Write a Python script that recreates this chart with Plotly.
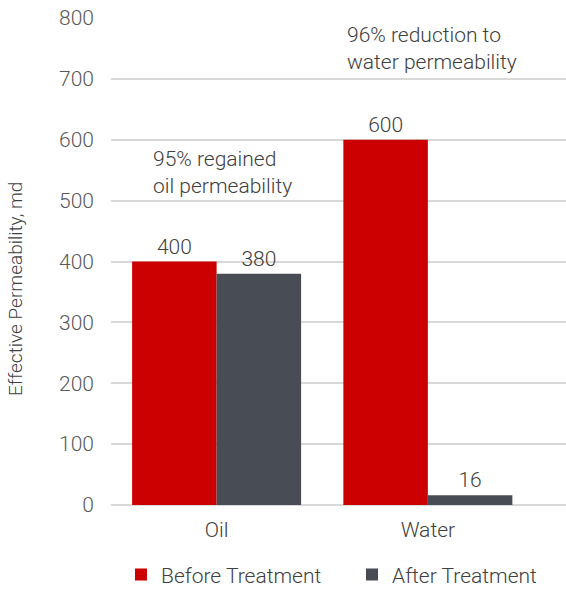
import plotly.graph_objects as go

categories = ["Oil", "Water"]
before = [400, 600]
after = [380, 16]
y_ticks = [0, 100, 200, 300, 400, 500, 600, 700, 800]

FONT = "Roboto"
TXT = "#404040"
FS = 21

def f(size=FS, color=TXT):
    return dict(size=size, color=color, family=FONT, weight=300)

fig = go.Figure()
fig.add_trace(go.Bar(x=categories, y=before, name="Before Treatment",
                     marker=dict(color="#CC0000", line=dict(width=0)),
                     text=[str(v) for v in before], textposition="outside",
                     textfont=f(), cliponaxis=False, legend="legend"))
fig.add_trace(go.Bar(x=categories, y=after, name="After Treatment",
                     marker=dict(color="#474C55", line=dict(width=0)),
                     text=[str(v) for v in after], textposition="outside",
                     textfont=f(), cliponaxis=False, legend="legend2"))

fig.add_annotation(x=-0.31, y=0.6828, xref="x", yref="paper", text="95% regained<br>oil permeability",
                   showarrow=False, xanchor="left", yanchor="middle", align="left", font=f())
fig.add_annotation(x=0.61, y=0.9374, xref="x", yref="paper", text="96% reduction to<br>water permeability",
                   showarrow=False, xanchor="left", yanchor="middle", align="left", font=f())
fig.add_annotation(x=-0.211, y=0.4435, xref="paper", yref="paper", text="Effective Permeability, md",
                   textangle=-90, showarrow=False, xanchor="center", yanchor="middle",
                   font=f(19))

leg_common = dict(orientation="h", yref="container", y=0.024, yanchor="middle",
                  xref="container", xanchor="left", font=f(), itemwidth=30,
                  bgcolor="rgba(0,0,0,0)", borderwidth=0)

fig.update_layout(
    width=566, height=589,
    margin=dict(l=111, r=0, t=18, b=84),
    paper_bgcolor="white", plot_bgcolor="white",
    barmode="group", bargap=0.2, bargroupgap=0,
    font=f(FS, "#595959"),
    showlegend=True,
    legend=dict(x=121 / 566, **leg_common),
    legend2=dict(x=352 / 566, **leg_common),
    xaxis=dict(range=[-0.5, 1.654], showgrid=False, showline=False, ticks="",
               ticklabelstandoff=10, tickfont=f()),
    yaxis=dict(range=[0, 800], tickvals=y_ticks, showgrid=True, gridcolor="#D9D9D9",
               gridwidth=1.5, zeroline=True, zerolinecolor="#D9D9D9", zerolinewidth=1.5,
               showline=False, ticks="", ticklabelstandoff=16,
               tickfont=f(FS, "#595959")),
)

fig.write_html("out.html")
